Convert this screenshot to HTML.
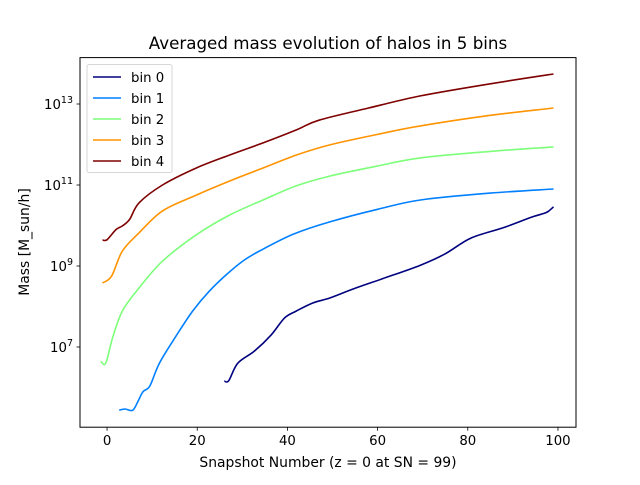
<!DOCTYPE html>
<html><head><meta charset="utf-8"><style>
body{margin:0;background:#fff;}
svg{font-family:"DejaVu Sans","Liberation Sans",sans-serif;}
</style></head><body>
<svg id="chart" width="640" height="480" viewBox="0 0 640 480">
<rect width="640" height="480" fill="#fff"/>
<text x="328" y="49" text-anchor="middle" font-size="16.7">Averaged mass evolution of halos in 5 bins</text>
<g id="ticks"></g>
<g id="lines"></g>
<rect x="80" y="57.6" width="496" height="369.6" fill="none" stroke="#000" stroke-width="1"/>
<text x="328" y="467" text-anchor="middle" font-size="13.9">Snapshot Number (z = 0 at SN = 99)</text>
<text transform="translate(29,242) rotate(-90)" text-anchor="middle" font-size="13.9">Mass [M_sun/h]</text>
<g id="legend"></g>
</svg>
<script>
const names=["bin 0","bin 1","bin 2","bin 3","bin 4"];
const colors=["#00007f","#0080ff","#7dff7a","#ff9400","#7f0000"];
const xTicks=[0,20,40,60,80,100];
const yTickExps=[7,9,11,13];
const bin0x=[26,27,29,32.7,36.4,39.4,42,45.7,49.4,55,62,69.5,75,80.7,88,94,97,98,99];
const bin0y=[6.16,6.17,6.6,6.9,7.3,7.72,7.89,8.09,8.21,8.45,8.72,9.02,9.3,9.69,9.95,10.2,10.3,10.36,10.46];
const bin1x=[2.7,4,5.7,7,8,9.5,11.6,15.3,19,22.7,26.4,30.1,33.8,41.2,49.4,60,69.5,85,99];
const bin1y=[5.44,5.47,5.44,5.69,5.9,6.04,6.6,7.27,7.89,8.38,8.78,9.12,9.37,9.78,10.09,10.4,10.63,10.8,10.9];
const bin2x=[-1.4,-0.3,1.2,3.4,7.1,12.3,19.8,27.2,34.6,42,49.4,60,69.5,85,99];
const bin2y=[6.65,6.6,7.22,7.89,8.46,9.12,9.77,10.26,10.63,10.98,11.22,11.47,11.67,11.83,11.94];
const bin3x=[-1,1,3.4,7.1,12.3,19.8,27.2,34.6,42,49.4,60,69.5,85,99];
const bin3y=[8.58,8.75,9.37,9.82,10.36,10.75,11.1,11.42,11.74,11.99,12.25,12.46,12.72,12.9];
const bin4x=[-1,0,2,3.4,5,7.1,12.3,19.8,27.2,34.6,42,47,58,69.5,85,99];
const bin4y=[9.64,9.65,9.9,9.99,10.15,10.56,11.0,11.42,11.74,12.04,12.36,12.6,12.9,13.2,13.5,13.74];
const series=[[bin0x,bin0y],[bin1x,bin1y],[bin2x,bin2y],[bin3x,bin3y],[bin4x,bin4y]];
const NS="http://www.w3.org/2000/svg";
const xPix=s=>80+(s+6)*496/110;
const yPix=l=>104-(l-13)*40.5;
function mk(tag,attrs,parent){const e=document.createElementNS(NS,tag);for(const k in attrs)e.setAttribute(k,attrs[k]);parent.appendChild(e);return e;}
const tg=document.getElementById('ticks');
xTicks.forEach(t=>{
  const x=xPix(t);
  const l=mk('line',{x1:x,x2:x,y1:427.2,y2:430.7,stroke:'#000','stroke-width':0.8},tg);
  
  
  const tx=mk('text',{x:x,y:445,'text-anchor':'middle','font-size':13.3},tg);
  tx.textContent=t;
  
  
});
yTickExps.forEach(e=>{
  const y=yPix(e);
  const t=mk('line',{x1:76.5,x2:80,y1:y,y2:y,stroke:'#000','stroke-width':0.8},tg);
  
  
  const tx=mk('text',{x:73,y:y+5,'text-anchor':'end','font-size':13.3},tg);
  
  
  tx.appendChild(document.createTextNode('10'));
  const sp=mk('tspan',{dy:-6,'font-size':9.5},tx);sp.textContent=e;
});
const lg=document.getElementById('lines');
series.forEach((s,i)=>{
  const P=s[0].map((x,j)=>[xPix(x),yPix(s[1][j])]);
  let d='M'+P[0][0].toFixed(1)+','+P[0][1].toFixed(1);
  for(let j=0;j<P.length-1;j++){
    const p0=P[Math.max(0,j-1)],p1=P[j],p2=P[j+1],p3=P[Math.min(P.length-1,j+2)];
    const c1=[p1[0]+(p2[0]-p0[0])/6,p1[1]+(p2[1]-p0[1])/6];
    const c2=[p2[0]-(p3[0]-p1[0])/6,p2[1]-(p3[1]-p1[1])/6];
    d+=' C'+c1[0].toFixed(1)+','+c1[1].toFixed(1)+' '+c2[0].toFixed(1)+','+c2[1].toFixed(1)+' '+p2[0].toFixed(1)+','+p2[1].toFixed(1);
  }
  const p=mk('path',{d:d,fill:'none',stroke:colors[i],'stroke-width':1.6,'stroke-linejoin':'round'},lg);
  
  
});
const leg=document.getElementById('legend');
const box=mk('rect',{x:87,y:64.6,width:85,height:108,rx:2,fill:'#fff',stroke:'#ccc','stroke-width':0.8},leg);


names.forEach((n,i)=>{
  const y=77+i*21;
  const l=mk('line',{x1:93,x2:121,y1:y,y2:y,stroke:colors[i],'stroke-width':1.6},leg);
  
  
  const t=mk('text',{x:131,y:y+5,'font-size':13.3},leg);
  t.textContent=n;
  
  
});
</script>
</body></html>
